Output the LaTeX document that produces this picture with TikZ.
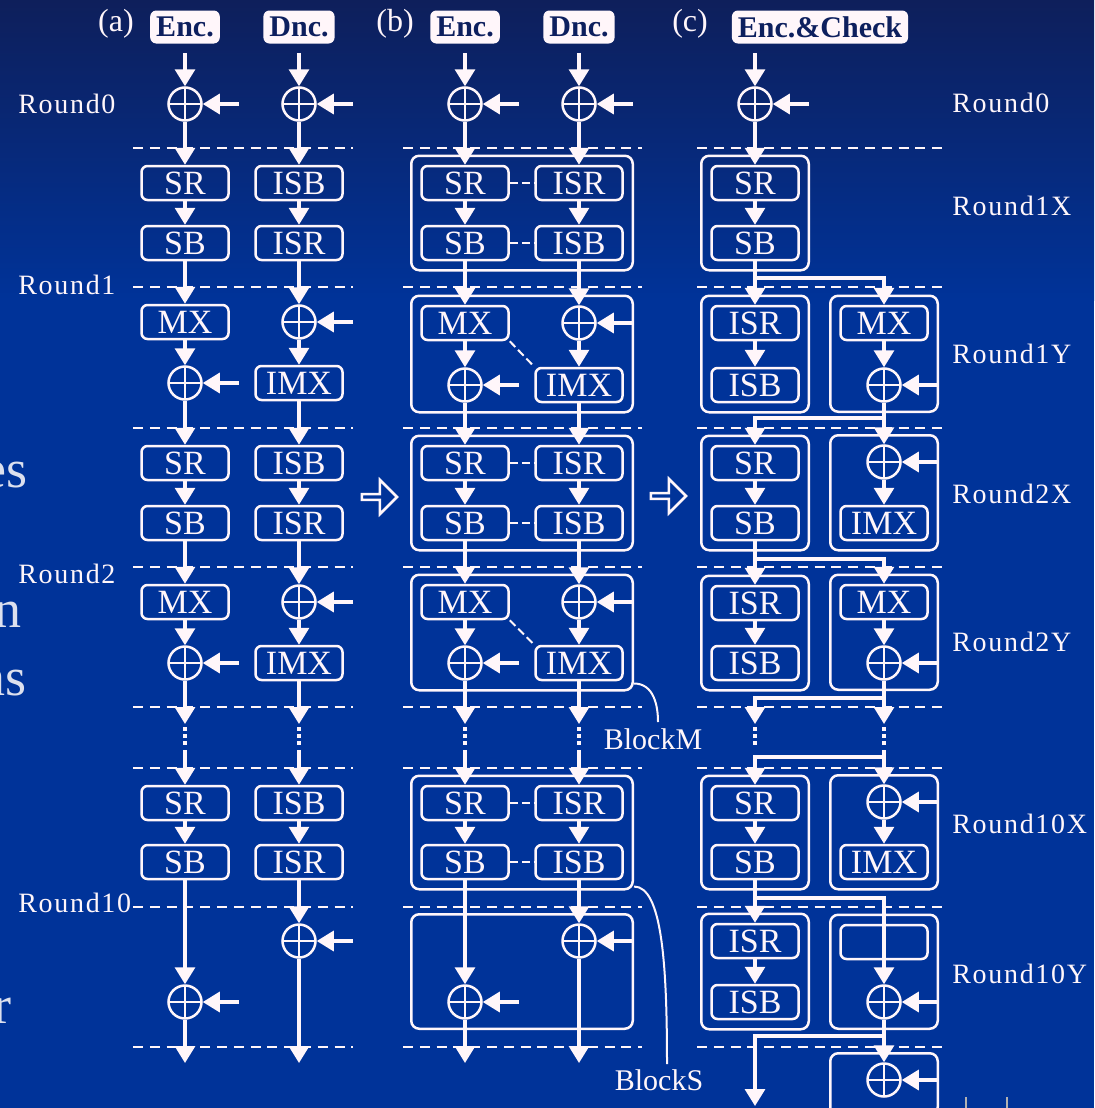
\documentclass[tikz,border=0pt]{standalone}
\usepackage{fontspec}
\setmainfont{Liberation Serif}
\newfontfamily\spacedfont[LetterSpace=6]{Liberation Serif}
\usepackage{xcolor}
\usepackage{tikz}
\usetikzlibrary{arrows.meta,fit,calc,shapes.arrows}
\definecolor{slideblue}{HTML}{003399}
\definecolor{slidetop}{HTML}{0E1F5B}
\definecolor{inkwhite}{HTML}{FFF6FA}
\definecolor{hdrnavy}{HTML}{0D1F5E}
\definecolor{ghosttext}{HTML}{DCE0EE}
\tikzset{
  opbox/.style={draw=inkwhite,line width=1.25pt,rounded corners=3pt,minimum width=43.5pt,minimum height=17pt,inner sep=0pt,text=inkwhite,font=\fontsize{17}{17}\selectfont},
  xorop/.style={circle,draw=inkwhite,line width=1.25pt,minimum size=16.5pt,inner sep=0pt,path picture={\draw[inkwhite,line width=1.1pt] (path picture bounding box.north)--(path picture bounding box.south) (path picture bounding box.west)--(path picture bounding box.east);}},
  blockbox/.style={draw=inkwhite,line width=1.25pt,rounded corners=4pt,inner sep=4.5pt},
  flow/.style={draw=inkwhite,line width=1.6pt,-{Triangle[width=10pt,length=8.5pt]}},
  roundsep/.style={draw=inkwhite,line width=1.4pt,dash pattern=on 5pt off 3.4pt},
  gapdots/.style={draw=inkwhite,line width=2pt,dash pattern=on 2pt off 1.6pt,shorten <=1.5pt,shorten >=1.5pt},
  pairdash/.style={draw=inkwhite,line width=1pt,dash pattern=on 4pt off 2pt},
  notecurve/.style={draw=inkwhite,line width=1pt},
  hdrbox/.style={fill=inkwhite,rounded corners=3pt,minimum height=16.5pt,inner xsep=3pt,inner ysep=0pt,text=hdrnavy,font=\fontsize{15}{15}\selectfont\bfseries},
  partlbl/.style={text=inkwhite,font=\fontsize{16}{16}\selectfont},
  roundlbl/.style={anchor=west,inner sep=0pt,text=inkwhite,font=\spacedfont\fontsize{14}{14}\selectfont},
  blocklbl/.style={text=inkwhite,inner sep=0pt,font=\fontsize{15}{15}\selectfont},
  hollowarrow/.style={single arrow,draw=inkwhite,line width=1.3pt,minimum height=17.5pt,minimum width=17pt,single arrow head extend=3.25pt,inner sep=0pt},
  ghost/.style={anchor=base east,inner sep=0pt,text=ghosttext,font=\fontsize{27}{27}\selectfont}
}
\begin{document}
\begin{tikzpicture}[x=0.5pt,y=-0.5pt]
\useasboundingbox (0,0) rectangle (1094,1108);
\clip (0,0) rectangle (1094,1108);
\fill[top color=slidetop,bottom color=slideblue] (0,0) rectangle (1094,300);
\fill[slideblue] (0,299) rectangle (1094,1108);
\node[ghost] (t1) at (28,487) {es};
\node[ghost] (t2) at (22,627) {n};
\node[ghost] (t3) at (27,695) {ns};
\node[ghost] (t4) at (12,1023) {r};
\draw[gray!60,line width=1pt] (966,1097) -- (966,1108) (1007,1097) -- (1007,1108);
\foreach \y in {148,287,428,567,707,768,907,1047}{
  \draw[roundsep] (133,\y) -- (353,\y);
  \draw[roundsep] (403,\y) -- (642,\y);
  \draw[roundsep] (697,\y) -- (947,\y);
}
% (a)
\node[partlbl] (pa) at (116,24) {(a)};
\node[hdrbox,minimum width=34pt] (hA) at (185,27) {Enc.};
\node[hdrbox,minimum width=34pt] (hD) at (299,27) {Dnc.};
\node[roundlbl] (ra0) at (18,104) {Round0};
\node[roundlbl] (ra1) at (18,285) {Round1};
\node[roundlbl] (ra2) at (18,574) {Round2};
\node[roundlbl] (ra10) at (18,903) {Round10};
\node[xorop] (xA0) at (185,104) {};
\node[opbox] (srA1) at (185,183) {SR};
\node[opbox] (sbA1) at (185,243) {SB};
\node[opbox] (mxA1) at (185,322) {MX};
\node[xorop] (xA1) at (185,383) {};
\node[opbox] (srA2) at (185,463) {SR};
\node[opbox] (sbA2) at (185,523) {SB};
\node[opbox] (mxA2) at (185,602) {MX};
\node[xorop] (xA2) at (185,663) {};
\coordinate (gA1) at (185,724);
\coordinate (gA2) at (185,750);
\node[opbox] (srA10) at (185,803) {SR};
\node[opbox] (sbA10) at (185,862) {SB};
\node[xorop] (xA10) at (185,1002) {};
\coordinate (eA) at (185,1063);
\node[xorop] (xD0) at (299,104) {};
\node[opbox] (isbD1) at (299,183) {ISB};
\node[opbox] (isrD1) at (299,243) {ISR};
\node[xorop] (xD1) at (299,322) {};
\node[opbox] (imxD1) at (299,383) {IMX};
\node[opbox] (isbD2) at (299,463) {ISB};
\node[opbox] (isrD2) at (299,523) {ISR};
\node[xorop] (xD2) at (299,602) {};
\node[opbox] (imxD2) at (299,663) {IMX};
\coordinate (gD1) at (299,724);
\coordinate (gD2) at (299,750);
\node[opbox] (isbD10) at (299,803) {ISB};
\node[opbox] (isrD10) at (299,862) {ISR};
\node[xorop] (xD10) at (299,941) {};
\coordinate (eD) at (299,1063);
\node[hollowarrow] (arAB) at (378,497) {};
% (b)
\node[partlbl] (pb) at (395,24) {(b)};
\node[hdrbox,minimum width=34pt] (hBE) at (465,27) {Enc.};
\node[hdrbox,minimum width=34pt] (hBD) at (579,27) {Dnc.};
\node[xorop] (xBE0) at (465,104) {};
\node[xorop] (xBD0) at (579,104) {};
\node[opbox] (srB1) at (465,183) {SR};
\node[opbox] (isrB1) at (579,183) {ISR};
\node[opbox] (sbB1) at (465,243) {SB};
\node[opbox] (isbB1) at (579,243) {ISB};
\node[opbox] (mxB1) at (465,323) {MX};
\node[xorop] (xBD1) at (579,323) {};
\node[xorop] (xBE1) at (465,385) {};
\node[opbox] (imxB1) at (579,385) {IMX};
\node[opbox] (srB2) at (465,463) {SR};
\node[opbox] (isrB2) at (579,463) {ISR};
\node[opbox] (sbB2) at (465,523) {SB};
\node[opbox] (isbB2) at (579,523) {ISB};
\node[opbox] (mxB2) at (465,602) {MX};
\node[xorop] (xBD2) at (579,602) {};
\node[xorop] (xBE2) at (465,663) {};
\node[opbox] (imxB2) at (579,663) {IMX};
\coordinate (gBE1) at (465,724);
\coordinate (gBE2) at (465,750);
\coordinate (gBD1) at (579,724);
\coordinate (gBD2) at (579,750);
\node[opbox] (srB10) at (465,803) {SR};
\node[opbox] (isrB10) at (579,803) {ISR};
\node[opbox] (sbB10) at (465,862) {SB};
\node[opbox] (isbB10) at (579,862) {ISB};
\node[xorop] (xBD10) at (579,941) {};
\node[xorop] (xBE10) at (465,1002) {};
\coordinate (eBE) at (465,1063);
\coordinate (eBD) at (579,1063);
\node[blockbox,fit=(srB1)(isbB1)] (bB1) {};
\node[blockbox,fit=(mxB1)(imxB1)] (bB1m) {};
\node[blockbox,fit=(srB2)(isbB2)] (bB2) {};
\node[blockbox,fit=(mxB2)(imxB2)] (bB2m) {};
\node[blockbox,fit=(srB10)(isbB10)] (bB10) {};
\node[blockbox,fit=(sbB10.west |- xBD10.north)(isbB10.east |- xBE10.south)] (bB10s) {};
\coordinate (cM) at (658,722);
\node[blocklbl] (lblM) at (653,739) {BlockM};
\coordinate (cS) at (667,1064);
\node[blocklbl] (lblS) at (659,1080) {BlockS};
\draw[notecurve] ([yshift=4pt]bB2m.south east) to[out=0,in=90,out distance=10pt,in distance=8pt] (cM);
\draw[notecurve] ([yshift=2pt]bB10.south east) to[out=0,in=90,out distance=14pt,in distance=50pt] (cS);
\node[hollowarrow] (arBC) at (667,496) {};
% (c)
\node[partlbl] (pc) at (690,24) {(c)};
\node[hdrbox] (hC) at (820,27) {Enc.\&Check};
\node[roundlbl] (rc0) at (952,103) {Round0};
\node[roundlbl] (rc1x) at (952,206) {Round1X};
\node[roundlbl] (rc1y) at (952,354) {Round1Y};
\node[roundlbl] (rc2x) at (952,494) {Round2X};
\node[roundlbl] (rc2y) at (952,642) {Round2Y};
\node[roundlbl] (rc10x) at (952,824) {Round10X};
\node[roundlbl] (rc10y) at (952,974) {Round10Y};
\node[xorop] (xC0) at (755,104) {};
\node[opbox] (srC1) at (755,183) {SR};
\node[opbox] (sbC1) at (755,243) {SB};
\node[opbox] (isrC1) at (755,323) {ISR};
\node[opbox] (isbC1) at (755,385) {ISB};
\node[opbox] (mxC1) at (884,323) {MX};
\node[xorop] (xC1) at (884,385) {};
\node[opbox] (srC2) at (755,463) {SR};
\node[opbox] (sbC2) at (755,523) {SB};
\node[xorop] (xC2) at (884,462) {};
\node[opbox] (imxC2) at (884,523) {IMX};
\node[opbox] (isrC2) at (755,603) {ISR};
\node[opbox] (isbC2) at (755,663) {ISB};
\node[opbox] (mxC2) at (884,602) {MX};
\node[xorop] (xC2y) at (884,663) {};
\coordinate (gCl1) at (755,724);
\coordinate (gCl2) at (755,748);
\coordinate (gCr1) at (884,724);
\coordinate (gCr2) at (884,750);
\node[opbox] (srC10) at (755,803) {SR};
\node[opbox] (sbC10) at (755,862) {SB};
\node[xorop] (xC10) at (884,802) {};
\node[opbox] (imxC10) at (884,862) {IMX};
\node[opbox] (isrC10) at (755,941) {ISR};
\node[opbox] (isbC10) at (755,1002) {ISB};
\node[opbox] (nopC10) at (884,942) {};
\node[xorop] (xC10y) at (884,1002) {};
\node[xorop] (xC11) at (884,1080) {};
\coordinate (eC) at (755,1106);
\node[blockbox,fit=(srC1)(sbC1)] (bC1) {};
\node[blockbox,fit=(isrC1)(isbC1)] (bC1l) {};
\node[blockbox,fit=(mxC1)(xC1)] (bC1r) {};
\node[blockbox,fit=(srC2)(sbC2)] (bC2l) {};
\node[blockbox,fit=(xC2)(imxC2)] (bC2r) {};
\node[blockbox,fit=(isrC2)(isbC2)] (bC2yl) {};
\node[blockbox,fit=(mxC2)(xC2y)] (bC2yr) {};
\node[blockbox,fit=(srC10)(sbC10)] (bC10l) {};
\node[blockbox,fit=(xC10)(imxC10)] (bC10r) {};
\node[blockbox,fit=(isrC10)(isbC10)] (bC10yl) {};
\node[blockbox,fit=(nopC10)(xC10y)] (bC10yr) {};
\node[blockbox,fit=(imxC10.west |- xC11.north)(imxC10.east |- eC)] (bC11) {};
\coordinate (jC1) at (755,278);
\coordinate (jC2) at (884,418);
\coordinate (jC3) at (755,559);
\coordinate (jC4) at (884,698);
\coordinate (jC5) at (884,757);
\coordinate (jC6) at (755,898);
\coordinate (jC7) at (884,1036);
% connectors
\foreach \h/\x in {hA/xA0,hD/xD0,hBE/xBE0,hBD/xBD0}{\draw[flow,shorten <=4.5pt] (\h) -- (\x);}
\draw[flow,shorten <=4.5pt] (hC.south -| xC0) -- (xC0);
\foreach \a/\b in {xA0/srA1,srA1/sbA1,sbA1/mxA1,mxA1/xA1,xA1/srA2,srA2/sbA2,sbA2/mxA2,mxA2/xA2,xA2/gA1,gA2/srA10,srA10/sbA10,sbA10/xA10,xA10/eA,
  xD0/isbD1,isbD1/isrD1,isrD1/xD1,xD1/imxD1,imxD1/isbD2,isbD2/isrD2,isrD2/xD2,xD2/imxD2,imxD2/gD1,gD2/isbD10,isbD10/isrD10,isrD10/xD10,xD10/eD,
  xBE0/srB1,srB1/sbB1,sbB1/mxB1,mxB1/xBE1,xBE1/srB2,srB2/sbB2,sbB2/mxB2,mxB2/xBE2,xBE2/gBE1,gBE2/srB10,srB10/sbB10,sbB10/xBE10,xBE10/eBE,
  xBD0/isrB1,isrB1/isbB1,isbB1/xBD1,xBD1/imxB1,imxB1/isrB2,isrB2/isbB2,isbB2/xBD2,xBD2/imxB2,imxB2/gBD1,gBD2/isrB10,isrB10/isbB10,isbB10/xBD10,xBD10/eBD,
  xC0/srC1,srC1/sbC1,sbC1/isrC1,isrC1/isbC1,mxC1/xC1,xC1/xC2,xC2/imxC2,srC2/sbC2,sbC2/isrC2,isrC2/isbC2,mxC2/xC2y,xC2y/gCr1,gCr2/xC10,xC10/imxC10,srC10/sbC10,sbC10/isrC10,isrC10/isbC10,xC10y/xC11}{
  \draw[flow] (\a) -- (\b);
}
\foreach \j/\t in {jC1/mxC1,jC2/srC2,jC3/mxC2,jC4/gCl1,jC5/srC10,jC6/xC10y,jC7/eC}{\draw[flow] (\j) -| (\t);}
\foreach \a/\b in {gA1/gA2,gD1/gD2,gBE1/gBE2,gBD1/gBD2,gCl1/gCl2,gCr1/gCr2}{\draw[gapdots] (\a) -- (\b);}
\foreach \a/\b in {srB1/isrB1,sbB1/isbB1,srB2/isrB2,sbB2/isbB2,srB10/isrB10,sbB10/isbB10}{\draw[pairdash] (\a) -- (\b);}
\foreach \m in {1,2}{\draw[pairdash] (mxB\m.south east) -- (imxB\m.north west);}
\foreach \n in {xA0,xA1,xA2,xA10,xD0,xD1,xD2,xD10,xBE0,xBD0,xBE1,xBD1,xBE2,xBD2,xBE10,xBD10,xC0,xC1,xC2,xC2y,xC10,xC10y,xC11}{
  \coordinate (k\n) at ($(\n)+(54,0)$);
  \draw[flow] (k\n) -- (\n);
}
\end{tikzpicture}
\end{document}
